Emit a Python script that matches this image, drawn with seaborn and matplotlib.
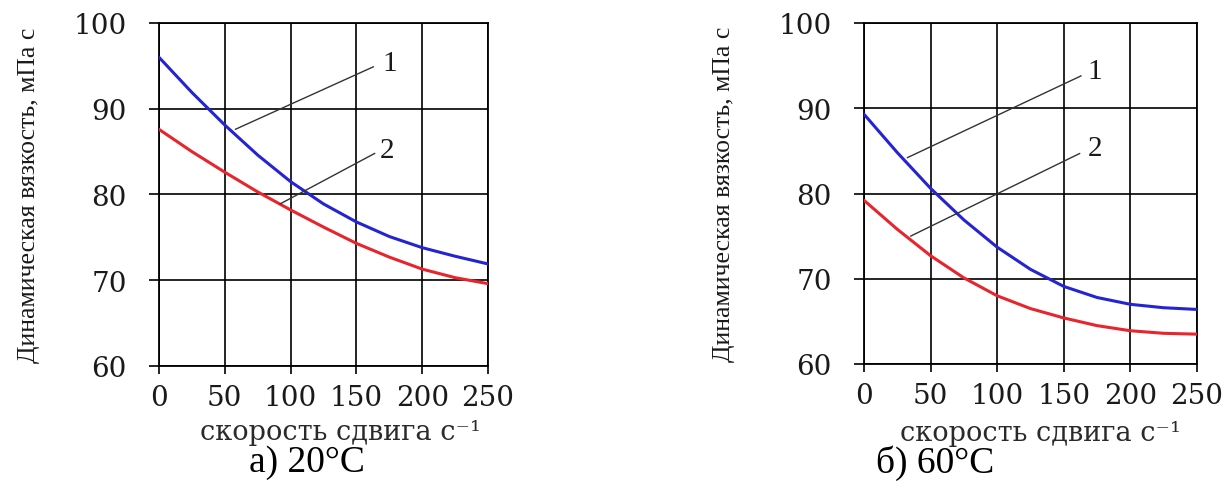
import matplotlib
matplotlib.use("Agg")
import matplotlib.pyplot as plt
import seaborn as sns
import pandas as pd

# ---- data ----
shear_rate = [0, 25, 50, 75, 100, 125, 150, 175, 200, 225, 250]

visc_20_curve1 = [96.0, 91.9, 88.1, 84.6, 81.5, 78.9, 76.8, 75.1, 73.8, 72.8, 71.9]
visc_20_curve2 = [87.6, 85.0, 82.6, 80.3, 78.2, 76.2, 74.3, 72.7, 71.3, 70.3, 69.6]

visc_60_curve1 = [89.3, 84.8, 80.6, 76.9, 73.7, 71.1, 69.1, 67.8, 67.0, 66.6, 66.4]
visc_60_curve2 = [79.2, 75.8, 72.7, 70.1, 68.0, 66.5, 65.4, 64.5, 63.9, 63.6, 63.5]

x_ticks = [0, 50, 100, 150, 200, 250]
y_ticks = [60, 70, 80, 90, 100]

y_label = "Динамическая вязкость, мПа с"
x_label = "скорость сдвига с\u207b\u00b9"
captions = ["а) 20°C", "б) 60°C"]
curve_names = ["1", "2"]

# leader lines: (start on curve, end near number), number position
leaders_20 = [((58, 87.6), (163, 94.9), (175.5, 95.3)),
              ((92, 78.9), (164, 84.8), (173.5, 85.2))]
leaders_60 = [((32.5, 84.2), (163, 93.8), (173.5, 94.4)),
              ((35, 75.0), (162, 84.7), (173.5, 85.3))]

# ---- style ----
sns.set_style("white")
plt.rcParams["font.family"] = ["DejaVu Serif"]
plt.rcParams["axes.edgecolor"] = "black"

BLUE = "#2424d2"
RED = "#e8242c"

fig = plt.figure(figsize=(12.31, 4.85), dpi=100)
W, H = 1231, 485
axL = fig.add_axes([159 / W, 118 / H, 329 / W, 343 / H])
axR = fig.add_axes([864 / W, 120 / H, 333 / W, 341 / H])

panels = [
    (axL, visc_20_curve1, visc_20_curve2, leaders_20, captions[0],
     (-0.395, 0.5), (0.553, -0.19), (0.45, -0.28)),
    (axR, visc_60_curve1, visc_60_curve2, leaders_60, captions[1],
     (-0.419, 0.5), (0.53, -0.20), (0.213, -0.287)),
]

for ax, c1, c2, leaders, cap, ylab_pos, xlab_pos, cap_pos in panels:
    df = pd.DataFrame({"x": shear_rate * 2,
                       "y": c1 + c2,
                       "curve": [curve_names[0]] * len(c1) + [curve_names[1]] * len(c2)})
    sns.lineplot(data=df, x="x", y="y", hue="curve",
                 palette={curve_names[0]: BLUE, curve_names[1]: RED},
                 linewidth=2.2, ax=ax, legend=False, zorder=4)
    ax.set_xlim(0, 250)
    ax.set_ylim(60, 100)
    ax.set_xticks(x_ticks)
    ax.set_yticks(y_ticks)
    ax.grid(True, color="black", linewidth=1.2)
    for sp in ax.spines.values():
        sp.set_visible(True)
        sp.set_color("black")
        sp.set_linewidth(1.3)
    ax.tick_params(axis="y", left=True, length=7.2, width=1.2, pad=16,
                   labelsize=20, colors="black", labelcolor="#1a1a1a")
    ax.tick_params(axis="x", bottom=True, length=5.8, width=1.2, pad=7,
                   labelsize=20, colors="black", labelcolor="#1a1a1a")

    ax.set_ylabel(y_label, family=["Liberation Serif"], fontsize=18.5, color="#1a1a1a")
    ax.yaxis.label.set_rotation_mode("default")
    ax.yaxis.label.set_va("center")
    ax.yaxis.label.set_ha("center")
    ax.yaxis.set_label_coords(*ylab_pos)

    ax.set_xlabel(x_label, fontsize=19.5, color="#2a2a2a")
    ax.xaxis.label.set_va("center")
    ax.xaxis.set_label_coords(*xlab_pos)

    for (p0, p1, ptxt), name in zip(leaders, curve_names):
        ax.plot([p0[0], p1[0]], [p0[1], p1[1]], color="#333333", lw=1.0, zorder=5)
        ax.text(ptxt[0], ptxt[1], name, family=["Liberation Serif"], fontsize=21,
                ha="center", va="center", color="#1a1a1a")

    ax.text(cap_pos[0], cap_pos[1], cap, transform=ax.transAxes,
            family=["Liberation Serif"], fontsize=27, ha="center", va="center",
            color="black")

fig.savefig("out.png", dpi=100)
